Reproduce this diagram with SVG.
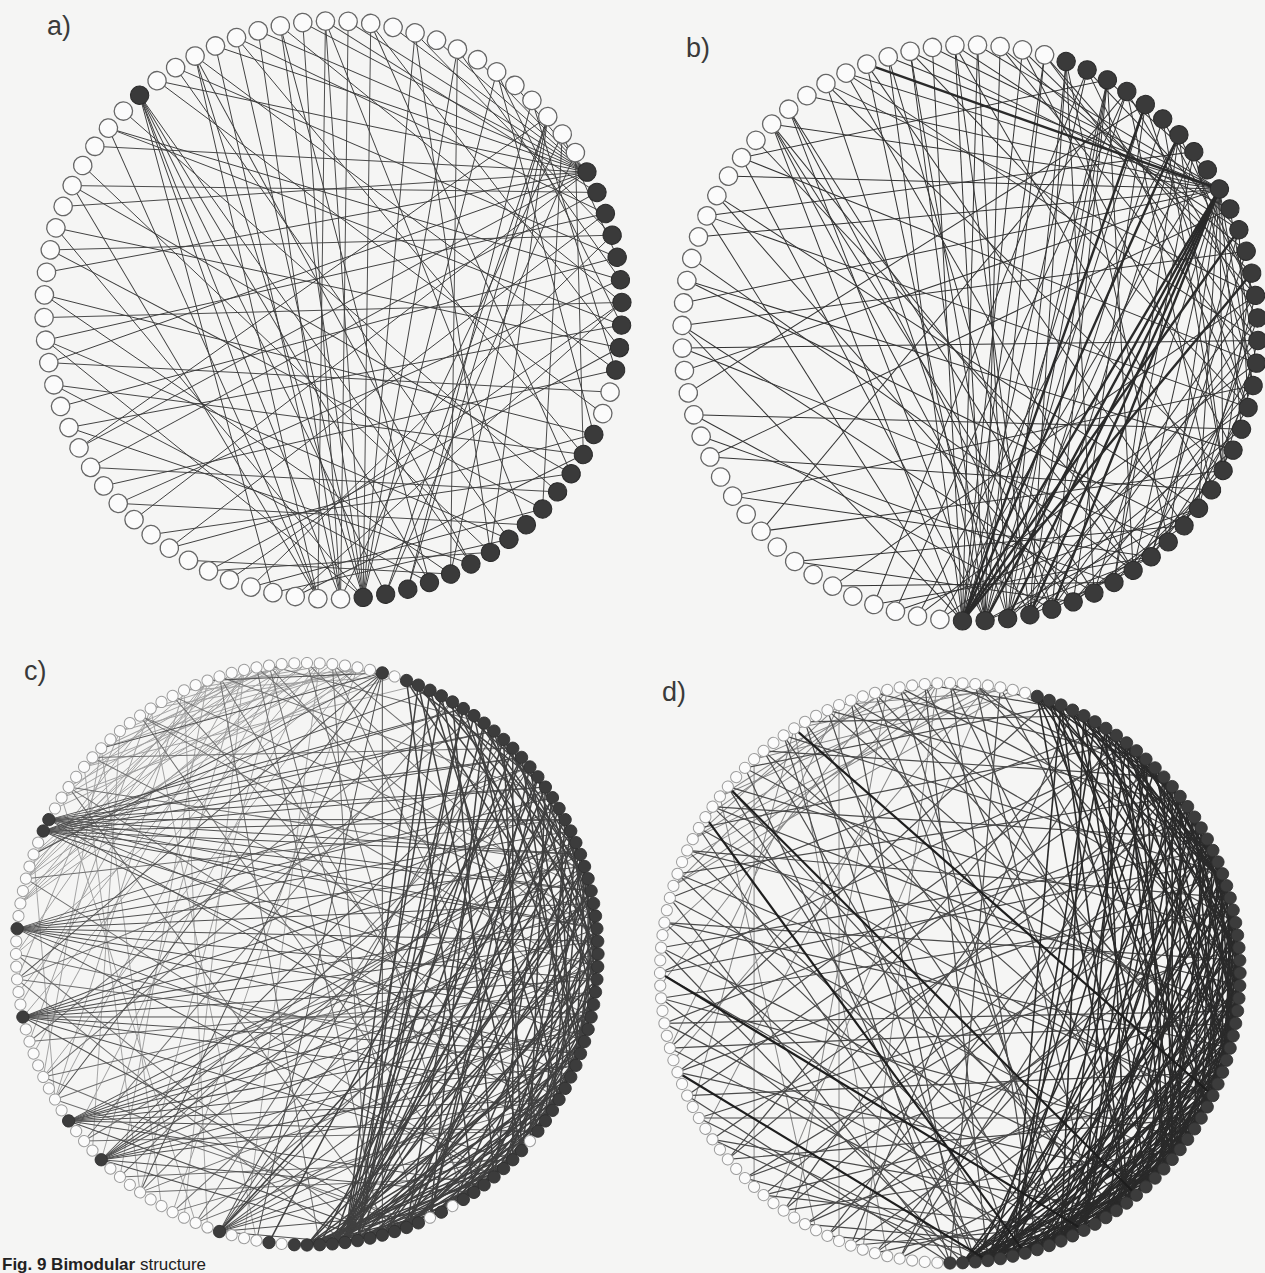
<svg xmlns="http://www.w3.org/2000/svg" width="1265" height="1273" viewBox="0 0 1265 1273">
<style>
.O{fill:#fbfbfb;stroke:#666;stroke-width:1.3}
.F{fill:#3a3a3a;stroke:#2a2a2a;stroke-width:1}
.o{fill:#fbfbfb;stroke:#9c9c9c;stroke-width:1}
.f{fill:#3c3c3c;stroke:#303030;stroke-width:.8}
.ea{stroke:#3c3c3c;stroke-width:.9}
.eb{stroke:#333;stroke-width:1}
.tk{stroke:#2a2a2a;stroke-width:2.4}
.cf{stroke:#404040;stroke-width:1.5}
.ch{stroke:#505050;stroke-width:1}
.co{stroke:#a0a0a0;stroke-width:.9}
.cm{stroke:#6e6e6e;stroke-width:1}
.df{stroke:#2a2a2a;stroke-width:1.6}
.dm{stroke:#4a4a4a;stroke-width:1.2}
.do{stroke:#858585;stroke-width:1}
.dt{stroke:#1e1e1e;stroke-width:2.2}
.lb{font-family:"Liberation Sans",Arial,sans-serif;font-size:27px;fill:#3a3a3a}
.cap{font-family:"Liberation Sans",Arial,sans-serif;font-size:17px;font-weight:bold;fill:#222}
</style>
<defs>
<line id="e" x2="600"/>
<circle id="na" cx="289" r="9.2"/>
<circle id="nb" cx="288" r="9.2"/>
<circle id="nc" cx="291" r="5.6"/>
<circle id="fc" cx="291" r="6.2"/>
<circle id="nd" cx="290" r="5.6"/>
<circle id="fd" cx="290" r="6.2"/>
<clipPath id="ka"><circle r="289"/></clipPath>
<clipPath id="kb"><circle r="288"/></clipPath>
<clipPath id="kc"><circle r="291"/></clipPath>
<clipPath id="kd"><circle r="290"/></clipPath>
</defs>
<rect width="1265" height="1273" fill="#f5f5f4"/>

<g id="panel-a" transform="translate(333 310) rotate(-28.5)">
<g id="a-edges" class="ea" clip-path="url(#ka)">
<g transform="rotate(0)translate(289)"><use href="#e" transform="rotate(171)"/><use href="#e" transform="rotate(180)"/><use href="#e" transform="rotate(189)"/><use href="#e" transform="rotate(198)"/><use href="#e" transform="rotate(204.75)"/><use href="#e" transform="rotate(211.5)"/><use href="#e" transform="rotate(220.5)"/><use href="#e" transform="rotate(227.25)"/><use href="#e" transform="rotate(231.75)"/><use href="#e" transform="rotate(236.25)"/><use href="#e" transform="rotate(240.75)"/><use href="#e" transform="rotate(245.25)"/><use href="#e" transform="rotate(249.75)"/><use href="#e" transform="rotate(254.25)"/><use href="#e" transform="rotate(258.75)"/></g>
<g transform="rotate(112.5)translate(289)"><use href="#e" transform="rotate(168.75)"/><use href="#e" transform="rotate(173.25)"/><use href="#e" transform="rotate(177.75)"/><use href="#e" transform="rotate(182.25)"/><use href="#e" transform="rotate(186.75)"/><use href="#e" transform="rotate(191.25)"/><use href="#e" transform="rotate(195.75)"/><use href="#e" transform="rotate(200.25)"/><use href="#e" transform="rotate(135)"/><use href="#e" transform="rotate(146.25)"/></g>
<g transform="rotate(256.5)translate(289)"><use href="#e" transform="rotate(186.75)"/><use href="#e" transform="rotate(191.25)"/><use href="#e" transform="rotate(195.75)"/><use href="#e" transform="rotate(200.25)"/><use href="#e" transform="rotate(202.5)"/><use href="#e" transform="rotate(207)"/></g>
<g transform="rotate(346.5)translate(289)"><use href="#e" transform="rotate(144)"/><use href="#e" transform="rotate(148.5)"/><use href="#e" transform="rotate(150.75)"/><use href="#e" transform="rotate(139.5)"/><use href="#e" transform="rotate(186.75)"/></g>
<g transform="rotate(117)translate(289)"><use href="#e" transform="rotate(168.75)"/><use href="#e" transform="rotate(173.25)"/><use href="#e" transform="rotate(177.75)"/><use href="#e" transform="rotate(182.25)"/><use href="#e" transform="rotate(207)"/></g>
<g transform="rotate(121.5)translate(289)"><use href="#e" transform="rotate(153)"/><use href="#e" transform="rotate(146.25)"/><use href="#e" transform="rotate(164.25)"/><use href="#e" transform="rotate(177.75)"/></g>
<g transform="rotate(126)translate(289)"><use href="#e" transform="rotate(220.5)"/><use href="#e" transform="rotate(236.25)"/></g>
<g transform="rotate(135)translate(289)"><use href="#e" transform="rotate(209.25)"/><use href="#e" transform="rotate(238.5)"/></g>
<g transform="rotate(144)translate(289)"><use href="#e" transform="rotate(216)"/><use href="#e" transform="rotate(240.75)"/></g>
<g transform="rotate(153)translate(289)"><use href="#e" transform="rotate(198)"/><use href="#e" transform="rotate(220.5)"/></g>
<use href="#e" transform="rotate(157.5)translate(289)rotate(222.75)"/>
<g transform="rotate(166.5)translate(289)"><use href="#e" transform="rotate(198)"/><use href="#e" transform="rotate(225)"/></g>
<use href="#e" transform="rotate(171)translate(289)rotate(204.75)"/>
<g transform="rotate(175.5)translate(289)"><use href="#e" transform="rotate(184.5)"/><use href="#e" transform="rotate(216)"/></g>
<g transform="rotate(184.5)translate(289)"><use href="#e" transform="rotate(193.5)"/><use href="#e" transform="rotate(222.75)"/></g>
<use href="#e" transform="rotate(189)translate(289)rotate(184.5)"/>
<g transform="rotate(193.5)translate(289)"><use href="#e" transform="rotate(202.5)"/><use href="#e" transform="rotate(222.75)"/></g>
<g transform="rotate(202.5)translate(289)"><use href="#e" transform="rotate(173.25)"/><use href="#e" transform="rotate(209.25)"/></g>
<use href="#e" transform="rotate(207)translate(289)rotate(180)"/>
<g transform="rotate(211.5)translate(289)"><use href="#e" transform="rotate(191.25)"/><use href="#e" transform="rotate(211.5)"/></g>
<g transform="rotate(220.5)translate(289)"><use href="#e" transform="rotate(166.5)"/><use href="#e" transform="rotate(195.75)"/></g>
<use href="#e" transform="rotate(225)translate(289)rotate(175.5)"/>
<g transform="rotate(234)translate(289)"><use href="#e" transform="rotate(155.25)"/><use href="#e" transform="rotate(184.5)"/></g>
<use href="#e" transform="rotate(238.5)translate(289)rotate(193.5)"/>
<g transform="rotate(247.5)translate(289)"><use href="#e" transform="rotate(157.5)"/><use href="#e" transform="rotate(162)"/></g>
<use href="#e" transform="rotate(252)translate(289)rotate(177.75)"/>
<g transform="rotate(265.5)translate(289)"><use href="#e" transform="rotate(146.25)"/><use href="#e" transform="rotate(177.75)"/></g>
<g transform="rotate(270)translate(289)"><use href="#e" transform="rotate(155.25)"/><use href="#e" transform="rotate(180)"/></g>
<g transform="rotate(279)translate(289)"><use href="#e" transform="rotate(135)"/><use href="#e" transform="rotate(159.75)"/></g>
<g transform="rotate(288)translate(289)"><use href="#e" transform="rotate(139.5)"/><use href="#e" transform="rotate(175.5)"/></g>
<g transform="rotate(297)translate(289)"><use href="#e" transform="rotate(123.75)"/><use href="#e" transform="rotate(159.75)"/></g>
<g transform="rotate(306)translate(289)"><use href="#e" transform="rotate(135)"/><use href="#e" transform="rotate(148.5)"/></g>
<g transform="rotate(315)translate(289)"><use href="#e" transform="rotate(119.25)"/><use href="#e" transform="rotate(155.25)"/></g>
<g transform="rotate(324)translate(289)"><use href="#e" transform="rotate(119.25)"/><use href="#e" transform="rotate(155.25)"/></g>
<g transform="rotate(333)translate(289)"><use href="#e" transform="rotate(119.25)"/><use href="#e" transform="rotate(130.5)"/></g>
<g transform="rotate(342)translate(289)"><use href="#e" transform="rotate(119.25)"/><use href="#e" transform="rotate(150.75)"/></g>
<g transform="rotate(351)translate(289)"><use href="#e" transform="rotate(103.5)"/><use href="#e" transform="rotate(130.5)"/></g>
<g transform="rotate(355.5)translate(289)"><use href="#e" transform="rotate(121.5)"/><use href="#e" transform="rotate(146.25)"/></g>
<use href="#e" transform="rotate(130.5)translate(289)rotate(245.25)"/>
<use href="#e" transform="rotate(139.5)translate(289)rotate(213.75)"/>
<use href="#e" transform="rotate(148.5)translate(289)rotate(243)"/>
<use href="#e" transform="rotate(45)translate(289)rotate(166.5)"/>
<use href="#e" transform="rotate(49.5)translate(289)rotate(195.75)"/>
</g>
<g id="a-nodes">
<g class="O"><use id="a10" href="#na" transform="rotate(45)"/><use id="a11" href="#na" transform="rotate(49.5)"/><use id="a26" href="#na" transform="rotate(117)"/><use id="a27" href="#na" transform="rotate(121.5)"/><use id="a28" href="#na" transform="rotate(126)"/><use id="a29" href="#na" transform="rotate(130.5)"/><use id="a30" href="#na" transform="rotate(135)"/><use id="a31" href="#na" transform="rotate(139.5)"/><use id="a32" href="#na" transform="rotate(144)"/><use id="a33" href="#na" transform="rotate(148.5)"/><use id="a34" href="#na" transform="rotate(153)"/><use id="a35" href="#na" transform="rotate(157.5)"/><use id="a36" href="#na" transform="rotate(162)"/><use id="a37" href="#na" transform="rotate(166.5)"/><use id="a38" href="#na" transform="rotate(171)"/><use id="a39" href="#na" transform="rotate(175.5)"/><use id="a40" href="#na" transform="rotate(180)"/><use id="a41" href="#na" transform="rotate(184.5)"/><use id="a42" href="#na" transform="rotate(189)"/><use id="a43" href="#na" transform="rotate(193.5)"/><use id="a44" href="#na" transform="rotate(198)"/><use id="a45" href="#na" transform="rotate(202.5)"/><use id="a46" href="#na" transform="rotate(207)"/><use id="a47" href="#na" transform="rotate(211.5)"/><use id="a48" href="#na" transform="rotate(216)"/><use id="a49" href="#na" transform="rotate(220.5)"/><use id="a50" href="#na" transform="rotate(225)"/><use id="a51" href="#na" transform="rotate(229.5)"/><use id="a52" href="#na" transform="rotate(234)"/><use id="a53" href="#na" transform="rotate(238.5)"/><use id="a54" href="#na" transform="rotate(243)"/><use id="a55" href="#na" transform="rotate(247.5)"/><use id="a56" href="#na" transform="rotate(252)"/><use id="a58" href="#na" transform="rotate(261)"/><use id="a59" href="#na" transform="rotate(265.5)"/><use id="a60" href="#na" transform="rotate(270)"/><use id="a61" href="#na" transform="rotate(274.5)"/><use id="a62" href="#na" transform="rotate(279)"/><use id="a63" href="#na" transform="rotate(283.5)"/><use id="a64" href="#na" transform="rotate(288)"/><use id="a65" href="#na" transform="rotate(292.5)"/><use id="a66" href="#na" transform="rotate(297)"/><use id="a67" href="#na" transform="rotate(301.5)"/><use id="a68" href="#na" transform="rotate(306)"/><use id="a69" href="#na" transform="rotate(310.5)"/><use id="a70" href="#na" transform="rotate(315)"/><use id="a71" href="#na" transform="rotate(319.5)"/><use id="a72" href="#na" transform="rotate(324)"/><use id="a73" href="#na" transform="rotate(328.5)"/><use id="a74" href="#na" transform="rotate(333)"/><use id="a75" href="#na" transform="rotate(337.5)"/><use id="a76" href="#na" transform="rotate(342)"/><use id="a77" href="#na" transform="rotate(346.5)"/><use id="a78" href="#na" transform="rotate(351)"/><use id="a79" href="#na" transform="rotate(355.5)"/></g>
<g class="F"><use id="a0" href="#na"/><use id="a1" href="#na" transform="rotate(4.5)"/><use id="a2" href="#na" transform="rotate(9)"/><use id="a3" href="#na" transform="rotate(13.5)"/><use id="a4" href="#na" transform="rotate(18)"/><use id="a5" href="#na" transform="rotate(22.5)"/><use id="a6" href="#na" transform="rotate(27)"/><use id="a7" href="#na" transform="rotate(31.5)"/><use id="a8" href="#na" transform="rotate(36)"/><use id="a9" href="#na" transform="rotate(40.5)"/><use id="a12" href="#na" transform="rotate(54)"/><use id="a13" href="#na" transform="rotate(58.5)"/><use id="a14" href="#na" transform="rotate(63)"/><use id="a15" href="#na" transform="rotate(67.5)"/><use id="a16" href="#na" transform="rotate(72)"/><use id="a17" href="#na" transform="rotate(76.5)"/><use id="a18" href="#na" transform="rotate(81)"/><use id="a19" href="#na" transform="rotate(85.5)"/><use id="a20" href="#na" transform="rotate(90)"/><use id="a21" href="#na" transform="rotate(94.5)"/><use id="a22" href="#na" transform="rotate(99)"/><use id="a23" href="#na" transform="rotate(103.5)"/><use id="a24" href="#na" transform="rotate(108)"/><use id="a25" href="#na" transform="rotate(112.5)"/><use id="a57" href="#na" transform="rotate(256.5)"/></g>
</g>
</g>

<g id="panel-b" transform="translate(970 333) rotate(1.5)">
<g id="b-edges" clip-path="url(#kb)">
<g class="eb">
<g transform="rotate(328.5)translate(288)"><use href="#e" transform="rotate(240.75)"/><use href="#e" transform="rotate(236.25)"/><use href="#e" transform="rotate(231.75)"/><use href="#e" transform="rotate(227.25)"/><use href="#e" transform="rotate(222.75)"/><use href="#e" transform="rotate(218.25)"/><use href="#e" transform="rotate(211.5)"/><use href="#e" transform="rotate(204.75)"/><use href="#e" transform="rotate(198)"/><use href="#e" transform="rotate(191.25)"/><use href="#e" transform="rotate(110.25)"/><use href="#e" transform="rotate(114.75)"/><use href="#e" transform="rotate(119.25)"/><use href="#e" transform="rotate(123.75)"/><use href="#e" transform="rotate(128.25)"/><use href="#e" transform="rotate(132.75)"/><use href="#e" transform="rotate(137.25)"/></g>
<g transform="rotate(90)translate(288)"><use href="#e" transform="rotate(171)"/><use href="#e" transform="rotate(175.5)"/><use href="#e" transform="rotate(180)"/><use href="#e" transform="rotate(184.5)"/><use href="#e" transform="rotate(186.75)"/><use href="#e" transform="rotate(157.5)"/><use href="#e" transform="rotate(146.25)"/><use href="#e" transform="rotate(135)"/><use href="#e" transform="rotate(191.25)"/><use href="#e" transform="rotate(195.75)"/></g>
<g transform="rotate(85.5)translate(288)"><use href="#e" transform="rotate(171)"/><use href="#e" transform="rotate(175.5)"/><use href="#e" transform="rotate(180)"/><use href="#e" transform="rotate(184.5)"/><use href="#e" transform="rotate(155.25)"/><use href="#e" transform="rotate(195.75)"/><use href="#e" transform="rotate(207)"/><use href="#e" transform="rotate(189)"/><use href="#e" transform="rotate(200.25)"/><use href="#e" transform="rotate(211.5)"/></g>
<g transform="rotate(81)translate(288)"><use href="#e" transform="rotate(168.75)"/><use href="#e" transform="rotate(184.5)"/><use href="#e" transform="rotate(193.5)"/><use href="#e" transform="rotate(204.75)"/><use href="#e" transform="rotate(229.5)"/><use href="#e" transform="rotate(177.75)"/><use href="#e" transform="rotate(198)"/><use href="#e" transform="rotate(213.75)"/></g>
<g transform="rotate(76.5)translate(288)"><use href="#e" transform="rotate(184.5)"/><use href="#e" transform="rotate(195.75)"/><use href="#e" transform="rotate(209.25)"/></g>
<g transform="rotate(72)translate(288)"><use href="#e" transform="rotate(180)"/><use href="#e" transform="rotate(202.5)"/><use href="#e" transform="rotate(218.25)"/></g>
<g transform="rotate(225)translate(288)"><use href="#e" transform="rotate(195.75)"/><use href="#e" transform="rotate(191.25)"/><use href="#e" transform="rotate(184.5)"/></g>
<g transform="rotate(229.5)translate(288)"><use href="#e" transform="rotate(191.25)"/><use href="#e" transform="rotate(186.75)"/><use href="#e" transform="rotate(198)"/></g>
<g transform="rotate(94.5)translate(288)"><use href="#e" transform="rotate(204.75)"/><use href="#e" transform="rotate(229.5)"/></g>
<g transform="rotate(99)translate(288)"><use href="#e" transform="rotate(198)"/><use href="#e" transform="rotate(222.75)"/></g>
<g transform="rotate(103.5)translate(288)"><use href="#e" transform="rotate(189)"/><use href="#e" transform="rotate(236.25)"/></g>
<g transform="rotate(108)translate(288)"><use href="#e" transform="rotate(182.25)"/><use href="#e" transform="rotate(240.75)"/></g>
<g transform="rotate(117)translate(288)"><use href="#e" transform="rotate(240.75)"/><use href="#e" transform="rotate(207)"/></g>
<g transform="rotate(126)translate(288)"><use href="#e" transform="rotate(227.25)"/><use href="#e" transform="rotate(240.75)"/></g>
<g transform="rotate(135)translate(288)"><use href="#e" transform="rotate(216)"/><use href="#e" transform="rotate(173.25)"/></g>
<g transform="rotate(144)translate(288)"><use href="#e" transform="rotate(202.5)"/><use href="#e" transform="rotate(222.75)"/></g>
<g transform="rotate(153)translate(288)"><use href="#e" transform="rotate(209.25)"/><use href="#e" transform="rotate(180)"/></g>
<use href="#e" transform="rotate(157.5)translate(288)rotate(220.5)"/>
<g transform="rotate(162)translate(288)"><use href="#e" transform="rotate(198)"/><use href="#e" transform="rotate(225)"/></g>
<use href="#e" transform="rotate(166.5)translate(288)rotate(159.75)"/>
<g transform="rotate(175.5)translate(288)"><use href="#e" transform="rotate(182.25)"/><use href="#e" transform="rotate(204.75)"/></g>
<g transform="rotate(180)translate(288)"><use href="#e" transform="rotate(211.5)"/><use href="#e" transform="rotate(171)"/></g>
<g transform="rotate(189)translate(288)"><use href="#e" transform="rotate(186.75)"/><use href="#e" transform="rotate(195.75)"/></g>
<use href="#e" transform="rotate(193.5)translate(288)rotate(200.25)"/>
<g transform="rotate(202.5)translate(288)"><use href="#e" transform="rotate(175.5)"/><use href="#e" transform="rotate(148.5)"/></g>
<g transform="rotate(207)translate(288)"><use href="#e" transform="rotate(184.5)"/><use href="#e" transform="rotate(200.25)"/></g>
<g transform="rotate(216)translate(288)"><use href="#e" transform="rotate(164.25)"/><use href="#e" transform="rotate(130.5)"/></g>
<use href="#e" transform="rotate(220.5)translate(288)rotate(184.5)"/>
<g transform="rotate(238.5)translate(288)"><use href="#e" transform="rotate(164.25)"/><use href="#e" transform="rotate(146.25)"/></g>
<g transform="rotate(243)translate(288)"><use href="#e" transform="rotate(148.5)"/><use href="#e" transform="rotate(175.5)"/></g>
<use href="#e" transform="rotate(247.5)translate(288)rotate(166.5)"/>
<g transform="rotate(256.5)translate(288)"><use href="#e" transform="rotate(128.25)"/><use href="#e" transform="rotate(148.5)"/></g>
<g transform="rotate(265.5)translate(288)"><use href="#e" transform="rotate(126)"/><use href="#e" transform="rotate(153)"/></g>
<g transform="rotate(274.5)translate(288)"><use href="#e" transform="rotate(123.75)"/><use href="#e" transform="rotate(135)"/></g>
<g transform="rotate(279)translate(288)"><use href="#e" transform="rotate(123.75)"/><use href="#e" transform="rotate(141.75)"/></g>
<g transform="rotate(283.5)translate(288)"><use href="#e" transform="rotate(123.75)"/><use href="#e" transform="rotate(128.25)"/></g>
<g transform="rotate(288)translate(288)"><use href="#e" transform="rotate(148.5)"/><use href="#e" transform="rotate(157.5)"/></g>
<g transform="rotate(292.5)translate(288)"><use href="#e" transform="rotate(112.5)"/><use href="#e" transform="rotate(130.5)"/></g>
<g transform="rotate(297)translate(288)"><use href="#e" transform="rotate(148.5)"/><use href="#e" transform="rotate(159.75)"/><use href="#e" transform="rotate(103.5)"/></g>
<g transform="rotate(301.5)translate(288)"><use href="#e" transform="rotate(117)"/><use href="#e" transform="rotate(135)"/></g>
<g transform="rotate(306)translate(288)"><use href="#e" transform="rotate(123.75)"/><use href="#e" transform="rotate(150.75)"/></g>
<g transform="rotate(310.5)translate(288)"><use href="#e" transform="rotate(110.25)"/><use href="#e" transform="rotate(128.25)"/></g>
<g transform="rotate(315)translate(288)"><use href="#e" transform="rotate(126)"/><use href="#e" transform="rotate(141.75)"/><use href="#e" transform="rotate(108)"/></g>
<g transform="rotate(319.5)translate(288)"><use href="#e" transform="rotate(114.75)"/><use href="#e" transform="rotate(139.5)"/></g>
<g transform="rotate(337.5)translate(288)"><use href="#e" transform="rotate(108)"/><use href="#e" transform="rotate(126)"/></g>
<use href="#e" transform="rotate(342)translate(288)rotate(123.75)"/>
<g transform="rotate(351)translate(288)"><use href="#e" transform="rotate(112.5)"/><use href="#e" transform="rotate(132.75)"/></g>
<g transform="rotate(355.5)translate(288)"><use href="#e" transform="rotate(112.5)"/><use href="#e" transform="rotate(128.25)"/></g>
<use href="#e" transform="rotate(4.5)translate(288)rotate(114.75)"/>
<g transform="rotate(9)translate(288)"><use href="#e" transform="rotate(105.75)"/><use href="#e" transform="rotate(119.25)"/></g>
<use href="#e" transform="rotate(18)translate(288)rotate(121.5)"/>
<g transform="rotate(22.5)translate(288)"><use href="#e" transform="rotate(103.5)"/><use href="#e" transform="rotate(117)"/></g>
<g transform="rotate(36)translate(288)"><use href="#e" transform="rotate(105.75)"/><use href="#e" transform="rotate(114.75)"/></g>
<g transform="rotate(49.5)translate(288)"><use href="#e" transform="rotate(101.25)"/><use href="#e" transform="rotate(108)"/></g>
<use href="#e" transform="rotate(333)translate(288)rotate(105.75)"/>
<use href="#e" transform="rotate(346.5)translate(288)rotate(110.25)"/>
<use href="#e" transform="rotate(0)translate(288)rotate(103.5)"/>
<use href="#e" transform="rotate(13.5)translate(288)rotate(108)"/>
<use href="#e" transform="rotate(27)translate(288)rotate(105.75)"/>
<use href="#e" transform="rotate(40.5)translate(288)rotate(103.5)"/>
<use href="#e" transform="rotate(54)translate(288)rotate(101.25)"/>
</g>
<g class="tk">
<g transform="rotate(328.5)translate(288)"><use href="#e" transform="rotate(150.75)"/><use href="#e" transform="rotate(148.5)"/><use href="#e" transform="rotate(146.25)"/><use href="#e" transform="rotate(144)"/><use href="#e" transform="rotate(141.75)"/></g>
<g transform="rotate(90)translate(288)"><use href="#e" transform="rotate(198)"/><use href="#e" transform="rotate(202.5)"/><use href="#e" transform="rotate(213.75)"/><use href="#e" transform="rotate(218.25)"/></g>
<use href="#e" transform="rotate(247.5)translate(288)rotate(130.5)"/>
</g>
</g>
<g id="b-nodes">
<g class="O"><use id="b21" href="#nb" transform="rotate(94.5)"/><use id="b22" href="#nb" transform="rotate(99)"/><use id="b23" href="#nb" transform="rotate(103.5)"/><use id="b24" href="#nb" transform="rotate(108)"/><use id="b25" href="#nb" transform="rotate(112.5)"/><use id="b26" href="#nb" transform="rotate(117)"/><use id="b27" href="#nb" transform="rotate(121.5)"/><use id="b28" href="#nb" transform="rotate(126)"/><use id="b29" href="#nb" transform="rotate(130.5)"/><use id="b30" href="#nb" transform="rotate(135)"/><use id="b31" href="#nb" transform="rotate(139.5)"/><use id="b32" href="#nb" transform="rotate(144)"/><use id="b33" href="#nb" transform="rotate(148.5)"/><use id="b34" href="#nb" transform="rotate(153)"/><use id="b35" href="#nb" transform="rotate(157.5)"/><use id="b36" href="#nb" transform="rotate(162)"/><use id="b37" href="#nb" transform="rotate(166.5)"/><use id="b38" href="#nb" transform="rotate(171)"/><use id="b39" href="#nb" transform="rotate(175.5)"/><use id="b40" href="#nb" transform="rotate(180)"/><use id="b41" href="#nb" transform="rotate(184.5)"/><use id="b42" href="#nb" transform="rotate(189)"/><use id="b43" href="#nb" transform="rotate(193.5)"/><use id="b44" href="#nb" transform="rotate(198)"/><use id="b45" href="#nb" transform="rotate(202.5)"/><use id="b46" href="#nb" transform="rotate(207)"/><use id="b47" href="#nb" transform="rotate(211.5)"/><use id="b48" href="#nb" transform="rotate(216)"/><use id="b49" href="#nb" transform="rotate(220.5)"/><use id="b50" href="#nb" transform="rotate(225)"/><use id="b51" href="#nb" transform="rotate(229.5)"/><use id="b52" href="#nb" transform="rotate(234)"/><use id="b53" href="#nb" transform="rotate(238.5)"/><use id="b54" href="#nb" transform="rotate(243)"/><use id="b55" href="#nb" transform="rotate(247.5)"/><use id="b56" href="#nb" transform="rotate(252)"/><use id="b57" href="#nb" transform="rotate(256.5)"/><use id="b58" href="#nb" transform="rotate(261)"/><use id="b59" href="#nb" transform="rotate(265.5)"/><use id="b60" href="#nb" transform="rotate(270)"/><use id="b61" href="#nb" transform="rotate(274.5)"/><use id="b62" href="#nb" transform="rotate(279)"/><use id="b63" href="#nb" transform="rotate(283.5)"/></g>
<g class="F"><use id="b64" href="#nb" transform="rotate(288)"/><use id="b65" href="#nb" transform="rotate(292.5)"/><use id="b66" href="#nb" transform="rotate(297)"/><use id="b67" href="#nb" transform="rotate(301.5)"/><use id="b68" href="#nb" transform="rotate(306)"/><use id="b69" href="#nb" transform="rotate(310.5)"/><use id="b70" href="#nb" transform="rotate(315)"/><use id="b71" href="#nb" transform="rotate(319.5)"/><use id="b72" href="#nb" transform="rotate(324)"/><use id="b73" href="#nb" transform="rotate(328.5)"/><use id="b74" href="#nb" transform="rotate(333)"/><use id="b75" href="#nb" transform="rotate(337.5)"/><use id="b76" href="#nb" transform="rotate(342)"/><use id="b77" href="#nb" transform="rotate(346.5)"/><use id="b78" href="#nb" transform="rotate(351)"/><use id="b79" href="#nb" transform="rotate(355.5)"/><use id="b0" href="#nb"/><use id="b1" href="#nb" transform="rotate(4.5)"/><use id="b2" href="#nb" transform="rotate(9)"/><use id="b3" href="#nb" transform="rotate(13.5)"/><use id="b4" href="#nb" transform="rotate(18)"/><use id="b5" href="#nb" transform="rotate(22.5)"/><use id="b6" href="#nb" transform="rotate(27)"/><use id="b7" href="#nb" transform="rotate(31.5)"/><use id="b8" href="#nb" transform="rotate(36)"/><use id="b9" href="#nb" transform="rotate(40.5)"/><use id="b10" href="#nb" transform="rotate(45)"/><use id="b11" href="#nb" transform="rotate(49.5)"/><use id="b12" href="#nb" transform="rotate(54)"/><use id="b13" href="#nb" transform="rotate(58.5)"/><use id="b14" href="#nb" transform="rotate(63)"/><use id="b15" href="#nb" transform="rotate(67.5)"/><use id="b16" href="#nb" transform="rotate(72)"/><use id="b17" href="#nb" transform="rotate(76.5)"/><use id="b18" href="#nb" transform="rotate(81)"/><use id="b19" href="#nb" transform="rotate(85.5)"/><use id="b20" href="#nb" transform="rotate(90)"/></g>
</g>
</g>

<g id="panel-c" transform="translate(307 954)">
<g id="c-edges" clip-path="url(#kc)">
<g class="co">
<g transform="rotate(190)translate(291)"><use href="#e" transform="rotate(120)"/><use href="#e" transform="rotate(130)"/><use href="#e" transform="rotate(135)"/><use href="#e" transform="rotate(125)"/></g>
<g transform="rotate(195)translate(291)"><use href="#e" transform="rotate(112.5)"/><use href="#e" transform="rotate(122.5)"/><use href="#e" transform="rotate(130)"/><use href="#e" transform="rotate(118.75)"/></g>
<g transform="rotate(200)translate(291)"><use href="#e" transform="rotate(245)"/><use href="#e" transform="rotate(117.5)"/><use href="#e" transform="rotate(131.25)"/><use href="#e" transform="rotate(125)"/></g>
<g transform="rotate(212.5)translate(291)"><use href="#e" transform="rotate(220)"/><use href="#e" transform="rotate(107.5)"/><use href="#e" transform="rotate(117.5)"/><use href="#e" transform="rotate(127.5)"/></g>
<g transform="rotate(220)translate(291)"><use href="#e" transform="rotate(222.5)"/><use href="#e" transform="rotate(110)"/><use href="#e" transform="rotate(118.75)"/><use href="#e" transform="rotate(126.25)"/></g>
<g transform="rotate(225)translate(291)"><use href="#e" transform="rotate(217.5)"/><use href="#e" transform="rotate(235)"/><use href="#e" transform="rotate(117.5)"/><use href="#e" transform="rotate(110)"/></g>
<g transform="rotate(230)translate(291)"><use href="#e" transform="rotate(223.75)"/><use href="#e" transform="rotate(242.5)"/><use href="#e" transform="rotate(107.5)"/><use href="#e" transform="rotate(115)"/></g>
<g transform="rotate(237.5)translate(291)"><use href="#e" transform="rotate(201.25)"/><use href="#e" transform="rotate(232.5)"/><use href="#e" transform="rotate(112.5)"/><use href="#e" transform="rotate(105)"/></g>
<g transform="rotate(245)translate(291)"><use href="#e" transform="rotate(202.5)"/><use href="#e" transform="rotate(222.5)"/><use href="#e" transform="rotate(105)"/><use href="#e" transform="rotate(111.25)"/></g>
<g transform="rotate(250)translate(291)"><use href="#e" transform="rotate(210)"/><use href="#e" transform="rotate(235)"/><use href="#e" transform="rotate(106.25)"/><use href="#e" transform="rotate(230)"/></g>
<g transform="rotate(257.5)translate(291)"><use href="#e" transform="rotate(198.75)"/><use href="#e" transform="rotate(221.25)"/><use href="#e" transform="rotate(240)"/><use href="#e" transform="rotate(208.75)"/></g>
<g transform="rotate(265)translate(291)"><use href="#e" transform="rotate(200)"/><use href="#e" transform="rotate(223.75)"/><use href="#e" transform="rotate(245)"/><use href="#e" transform="rotate(212.5)"/></g>
<g transform="rotate(272.5)translate(291)"><use href="#e" transform="rotate(185)"/><use href="#e" transform="rotate(205)"/><use href="#e" transform="rotate(230)"/><use href="#e" transform="rotate(217.5)"/></g>
<g transform="rotate(280)translate(291)"><use href="#e" transform="rotate(188.75)"/><use href="#e" transform="rotate(207.5)"/><use href="#e" transform="rotate(235)"/><use href="#e" transform="rotate(220)"/></g>
</g>
<g class="cm">
<g transform="rotate(112.5)translate(291)"><use href="#e" transform="rotate(226.25)"/><use href="#e" transform="rotate(190)"/><use href="#e" transform="rotate(208.75)"/></g>
<g transform="rotate(125)translate(291)"><use href="#e" transform="rotate(232.5)"/><use href="#e" transform="rotate(190)"/><use href="#e" transform="rotate(213.75)"/></g>
<g transform="rotate(140)translate(291)"><use href="#e" transform="rotate(218.75)"/><use href="#e" transform="rotate(188.75)"/><use href="#e" transform="rotate(170)"/></g>
<g transform="rotate(155)translate(291)"><use href="#e" transform="rotate(227.5)"/><use href="#e" transform="rotate(192.5)"/><use href="#e" transform="rotate(165)"/></g>
<g transform="rotate(175)translate(291)"><use href="#e" transform="rotate(223.75)"/><use href="#e" transform="rotate(192.5)"/><use href="#e" transform="rotate(162.5)"/></g>
<g transform="rotate(215)translate(291)"><use href="#e" transform="rotate(177.5)"/><use href="#e" transform="rotate(153.75)"/><use href="#e" transform="rotate(198.75)"/></g>
<g transform="rotate(235)translate(291)"><use href="#e" transform="rotate(155)"/><use href="#e" transform="rotate(148.75)"/><use href="#e" transform="rotate(180)"/></g>
<g transform="rotate(252.5)translate(291)"><use href="#e" transform="rotate(166.25)"/><use href="#e" transform="rotate(127.5)"/><use href="#e" transform="rotate(187.5)"/></g>
<g transform="rotate(262.5)translate(291)"><use href="#e" transform="rotate(146.25)"/><use href="#e" transform="rotate(112.5)"/><use href="#e" transform="rotate(172.5)"/></g>
<g transform="rotate(275)translate(291)"><use href="#e" transform="rotate(150)"/><use href="#e" transform="rotate(125)"/><use href="#e" transform="rotate(171.25)"/></g>
<g transform="rotate(117.5)translate(291)"><use href="#e" transform="rotate(226.25)"/><use href="#e" transform="rotate(200)"/></g>
<g transform="rotate(130)translate(291)"><use href="#e" transform="rotate(227.5)"/><use href="#e" transform="rotate(185)"/></g>
<g transform="rotate(150)translate(291)"><use href="#e" transform="rotate(228.75)"/><use href="#e" transform="rotate(190)"/></g>
<g transform="rotate(162.5)translate(291)"><use href="#e" transform="rotate(192.5)"/><use href="#e" transform="rotate(158.75)"/></g>
<g transform="rotate(180)translate(291)"><use href="#e" transform="rotate(218.75)"/><use href="#e" transform="rotate(192.5)"/></g>
<g transform="rotate(195)translate(291)"><use href="#e" transform="rotate(197.5)"/><use href="#e" transform="rotate(158.75)"/></g>
<g transform="rotate(222.5)translate(291)"><use href="#e" transform="rotate(165)"/><use href="#e" transform="rotate(136.25)"/></g>
<g transform="rotate(242.5)translate(291)"><use href="#e" transform="rotate(166.25)"/><use href="#e" transform="rotate(142.5)"/></g>
<g transform="rotate(260)translate(291)"><use href="#e" transform="rotate(177.5)"/><use href="#e" transform="rotate(140)"/></g>
<g transform="rotate(270)translate(291)"><use href="#e" transform="rotate(163.75)"/><use href="#e" transform="rotate(133.75)"/></g>
</g>
<g class="ch">
<g transform="rotate(205)translate(291)"><use href="#e" transform="rotate(135)"/><use href="#e" transform="rotate(142.5)"/><use href="#e" transform="rotate(150)"/><use href="#e" transform="rotate(157.5)"/><use href="#e" transform="rotate(165)"/><use href="#e" transform="rotate(172.5)"/><use href="#e" transform="rotate(180)"/><use href="#e" transform="rotate(138.75)"/><use href="#e" transform="rotate(146.25)"/><use href="#e" transform="rotate(153.75)"/><use href="#e" transform="rotate(161.25)"/></g>
<g transform="rotate(207.5)translate(291)"><use href="#e" transform="rotate(137.5)"/><use href="#e" transform="rotate(145)"/><use href="#e" transform="rotate(152.5)"/><use href="#e" transform="rotate(160)"/><use href="#e" transform="rotate(167.5)"/><use href="#e" transform="rotate(175)"/><use href="#e" transform="rotate(182.5)"/><use href="#e" transform="rotate(141.25)"/><use href="#e" transform="rotate(148.75)"/><use href="#e" transform="rotate(156.25)"/><use href="#e" transform="rotate(163.75)"/></g>
<g transform="rotate(185)translate(291)"><use href="#e" transform="rotate(157.5)"/><use href="#e" transform="rotate(165)"/><use href="#e" transform="rotate(172.5)"/><use href="#e" transform="rotate(180)"/><use href="#e" transform="rotate(187.5)"/><use href="#e" transform="rotate(195)"/><use href="#e" transform="rotate(202.5)"/><use href="#e" transform="rotate(161.25)"/><use href="#e" transform="rotate(168.75)"/><use href="#e" transform="rotate(176.25)"/><use href="#e" transform="rotate(183.75)"/></g>
<g transform="rotate(167.5)translate(291)"><use href="#e" transform="rotate(171.25)"/><use href="#e" transform="rotate(178.75)"/><use href="#e" transform="rotate(185)"/><use href="#e" transform="rotate(192.5)"/><use href="#e" transform="rotate(200)"/><use href="#e" transform="rotate(208.75)"/><use href="#e" transform="rotate(221.25)"/><use href="#e" transform="rotate(175)"/><use href="#e" transform="rotate(182.5)"/><use href="#e" transform="rotate(188.75)"/><use href="#e" transform="rotate(196.25)"/></g>
<g transform="rotate(145)translate(291)"><use href="#e" transform="rotate(187.5)"/><use href="#e" transform="rotate(195)"/><use href="#e" transform="rotate(201.25)"/><use href="#e" transform="rotate(208.75)"/><use href="#e" transform="rotate(216.25)"/><use href="#e" transform="rotate(223.75)"/><use href="#e" transform="rotate(235)"/><use href="#e" transform="rotate(191.25)"/><use href="#e" transform="rotate(198.75)"/><use href="#e" transform="rotate(205)"/><use href="#e" transform="rotate(212.5)"/></g>
<g transform="rotate(135)translate(291)"><use href="#e" transform="rotate(180)"/><use href="#e" transform="rotate(190)"/><use href="#e" transform="rotate(197.5)"/><use href="#e" transform="rotate(210)"/><use href="#e" transform="rotate(217.5)"/><use href="#e" transform="rotate(230)"/><use href="#e" transform="rotate(241.25)"/><use href="#e" transform="rotate(185)"/><use href="#e" transform="rotate(193.75)"/><use href="#e" transform="rotate(203.75)"/><use href="#e" transform="rotate(213.75)"/></g>
<g transform="rotate(107.5)translate(291)"><use href="#e" transform="rotate(191.25)"/><use href="#e" transform="rotate(201.25)"/><use href="#e" transform="rotate(216.25)"/><use href="#e" transform="rotate(226.25)"/><use href="#e" transform="rotate(237.5)"/><use href="#e" transform="rotate(247.5)"/><use href="#e" transform="rotate(257.5)"/><use href="#e" transform="rotate(196.25)"/><use href="#e" transform="rotate(207.5)"/><use href="#e" transform="rotate(221.25)"/><use href="#e" transform="rotate(232.5)"/></g>
<g transform="rotate(285)translate(291)"><use href="#e" transform="rotate(202.5)"/><use href="#e" transform="rotate(215)"/><use href="#e" transform="rotate(227.5)"/><use href="#e" transform="rotate(240)"/><use href="#e" transform="rotate(252.5)"/><use href="#e" transform="rotate(190)"/><use href="#e" transform="rotate(177.5)"/><use href="#e" transform="rotate(165)"/></g>
</g>
<g class="cf">
<g transform="rotate(290)translate(291)"><use href="#e" transform="rotate(107.5)"/><use href="#e" transform="rotate(127.5)"/><use href="#e" transform="rotate(152.5)"/></g>
<g transform="rotate(292.5)translate(291)"><use href="#e" transform="rotate(120)"/><use href="#e" transform="rotate(145)"/><use href="#e" transform="rotate(165)"/></g>
<g transform="rotate(295)translate(291)"><use href="#e" transform="rotate(115)"/><use href="#e" transform="rotate(137.5)"/><use href="#e" transform="rotate(162.5)"/></g>
<g transform="rotate(297.5)translate(291)"><use href="#e" transform="rotate(111.25)"/><use href="#e" transform="rotate(140)"/><use href="#e" transform="rotate(162.5)"/></g>
<g transform="rotate(300)translate(291)"><use href="#e" transform="rotate(102.5)"/><use href="#e" transform="rotate(122.5)"/><use href="#e" transform="rotate(145)"/></g>
<g transform="rotate(302.5)translate(291)"><use href="#e" transform="rotate(127.5)"/><use href="#e" transform="rotate(158.75)"/><use href="#e" transform="rotate(160)"/></g>
<g transform="rotate(305)translate(291)"><use href="#e" transform="rotate(110)"/><use href="#e" transform="rotate(132.5)"/><use href="#e" transform="rotate(157.5)"/></g>
<g transform="rotate(307.5)translate(291)"><use href="#e" transform="rotate(116.25)"/><use href="#e" transform="rotate(148.75)"/><use href="#e" transform="rotate(157.5)"/></g>
<g transform="rotate(310)translate(291)"><use href="#e" transform="rotate(105)"/><use href="#e" transform="rotate(125)"/><use href="#e" transform="rotate(150)"/></g>
<g transform="rotate(312.5)translate(291)"><use href="#e" transform="rotate(107.5)"/><use href="#e" transform="rotate(135)"/><use href="#e" transform="rotate(155)"/></g>
<g transform="rotate(315)translate(291)"><use href="#e" transform="rotate(112.5)"/><use href="#e" transform="rotate(135)"/><use href="#e" transform="rotate(155)"/></g>
<g transform="rotate(317.5)translate(291)"><use href="#e" transform="rotate(123.75)"/><use href="#e" transform="rotate(152.5)"/><use href="#e" transform="rotate(160)"/></g>
<g transform="rotate(320)translate(291)"><use href="#e" transform="rotate(100)"/><use href="#e" transform="rotate(120)"/><use href="#e" transform="rotate(142.5)"/></g>
<g transform="rotate(322.5)translate(291)"><use href="#e" transform="rotate(113.75)"/><use href="#e" transform="rotate(141.25)"/><use href="#e" transform="rotate(150)"/></g>
<g transform="rotate(325)translate(291)"><use href="#e" transform="rotate(108.75)"/><use href="#e" transform="rotate(127.5)"/><use href="#e" transform="rotate(147.5)"/></g>
<g transform="rotate(327.5)translate(291)"><use href="#e" transform="rotate(131.25)"/><use href="#e" transform="rotate(150)"/><use href="#e" transform="rotate(147.5)"/></g>
<g transform="rotate(330)translate(291)"><use href="#e" transform="rotate(102.5)"/><use href="#e" transform="rotate(117.5)"/><use href="#e" transform="rotate(140)"/></g>
<g transform="rotate(332.5)translate(291)"><use href="#e" transform="rotate(103.75)"/><use href="#e" transform="rotate(121.25)"/><use href="#e" transform="rotate(145)"/></g>
<g transform="rotate(335)translate(291)"><use href="#e" transform="rotate(106.25)"/><use href="#e" transform="rotate(123.75)"/><use href="#e" transform="rotate(145)"/></g>
<g transform="rotate(337.5)translate(291)"><use href="#e" transform="rotate(117.5)"/><use href="#e" transform="rotate(143.75)"/><use href="#e" transform="rotate(155)"/></g>
<g transform="rotate(340)translate(291)"><use href="#e" transform="rotate(101.25)"/><use href="#e" transform="rotate(115)"/><use href="#e" transform="rotate(135)"/></g>
<g transform="rotate(342.5)translate(291)"><use href="#e" transform="rotate(110)"/><use href="#e" transform="rotate(133.75)"/><use href="#e" transform="rotate(140)"/></g>
<g transform="rotate(345)translate(291)"><use href="#e" transform="rotate(105)"/><use href="#e" transform="rotate(121.25)"/><use href="#e" transform="rotate(140)"/></g>
<g transform="rotate(347.5)translate(291)"><use href="#e" transform="rotate(126.25)"/><use href="#e" transform="rotate(141.25)"/><use href="#e" transform="rotate(137.5)"/></g>
<g transform="rotate(350)translate(291)"><use href="#e" transform="rotate(100)"/><use href="#e" transform="rotate(112.5)"/><use href="#e" transform="rotate(132.5)"/></g>
<g transform="rotate(352.5)translate(291)"><use href="#e" transform="rotate(105)"/><use href="#e" transform="rotate(122.5)"/></g>
<g transform="rotate(355)translate(291)"><use href="#e" transform="rotate(103.75)"/><use href="#e" transform="rotate(118.75)"/><use href="#e" transform="rotate(135)"/></g>
<g transform="rotate(357.5)translate(291)"><use href="#e" transform="rotate(115)"/><use href="#e" transform="rotate(136.25)"/></g>
<g transform="rotate(0)translate(291)"><use href="#e" transform="rotate(98.75)"/><use href="#e" transform="rotate(110)"/><use href="#e" transform="rotate(127.5)"/></g>
<g transform="rotate(2.5)translate(291)"><use href="#e" transform="rotate(101.25)"/><use href="#e" transform="rotate(128.75)"/></g>
<g transform="rotate(5)translate(291)"><use href="#e" transform="rotate(102.5)"/><use href="#e" transform="rotate(115)"/><use href="#e" transform="rotate(130)"/></g>
<g transform="rotate(7.5)translate(291)"><use href="#e" transform="rotate(111.25)"/><use href="#e" transform="rotate(125)"/></g>
<g transform="rotate(10)translate(291)"><use href="#e" transform="rotate(97.5)"/><use href="#e" transform="rotate(107.5)"/><use href="#e" transform="rotate(125)"/></g>
<g transform="rotate(12.5)translate(291)"><use href="#e" transform="rotate(106.25)"/><use href="#e" transform="rotate(120)"/></g>
<g transform="rotate(15)translate(291)"><use href="#e" transform="rotate(101.25)"/><use href="#e" transform="rotate(112.5)"/><use href="#e" transform="rotate(126.25)"/></g>
<g transform="rotate(17.5)translate(291)"><use href="#e" transform="rotate(116.25)"/><use href="#e" transform="rotate(126.25)"/></g>
<g transform="rotate(20)translate(291)"><use href="#e" transform="rotate(98.75)"/><use href="#e" transform="rotate(108.75)"/><use href="#e" transform="rotate(122.5)"/></g>
<g transform="rotate(22.5)translate(291)"><use href="#e" transform="rotate(100)"/><use href="#e" transform="rotate(113.75)"/></g>
<g transform="rotate(25)translate(291)"><use href="#e" transform="rotate(102.5)"/><use href="#e" transform="rotate(112.5)"/><use href="#e" transform="rotate(120)"/></g>
<g transform="rotate(27.5)translate(291)"><use href="#e" transform="rotate(108.75)"/><use href="#e" transform="rotate(121.25)"/></g>
<g transform="rotate(30)translate(291)"><use href="#e" transform="rotate(97.5)"/><use href="#e" transform="rotate(106.25)"/><use href="#e" transform="rotate(117.5)"/></g>
<g transform="rotate(32.5)translate(291)"><use href="#e" transform="rotate(103.75)"/><use href="#e" transform="rotate(117.5)"/></g>
<g transform="rotate(35)translate(291)"><use href="#e" transform="rotate(100)"/><use href="#e" transform="rotate(108.75)"/><use href="#e" transform="rotate(115)"/></g>
<g transform="rotate(37.5)translate(291)"><use href="#e" transform="rotate(98.75)"/><use href="#e" transform="rotate(111.25)"/></g>
<g transform="rotate(42.5)translate(291)"><use href="#e" transform="rotate(96.25)"/><use href="#e" transform="rotate(105)"/><use href="#e" transform="rotate(113.75)"/></g>
<g transform="rotate(45)translate(291)"><use href="#e" transform="rotate(98.75)"/><use href="#e" transform="rotate(107.5)"/><use href="#e" transform="rotate(112.5)"/></g>
<g transform="rotate(47.5)translate(291)"><use href="#e" transform="rotate(101.25)"/><use href="#e" transform="rotate(108.75)"/></g>
<g transform="rotate(50)translate(291)"><use href="#e" transform="rotate(97.5)"/><use href="#e" transform="rotate(103.75)"/><use href="#e" transform="rotate(110)"/></g>
<g transform="rotate(52.5)translate(291)"><use href="#e" transform="rotate(97.5)"/><use href="#e" transform="rotate(105)"/></g>
<g transform="rotate(55)translate(291)"><use href="#e" transform="rotate(96.25)"/><use href="#e" transform="rotate(101.25)"/><use href="#e" transform="rotate(107.5)"/></g>
<use href="#e" transform="rotate(57.5)translate(291)rotate(102.5)"/>
<g transform="rotate(62.5)translate(291)"><use href="#e" transform="rotate(95)"/><use href="#e" transform="rotate(100)"/><use href="#e" transform="rotate(103.75)"/></g>
<g transform="rotate(67.5)translate(291)"><use href="#e" transform="rotate(97.5)"/><use href="#e" transform="rotate(101.25)"/></g>
<g transform="rotate(70)translate(291)"><use href="#e" transform="rotate(96.25)"/><use href="#e" transform="rotate(100)"/></g>
<g transform="rotate(75)translate(291)"><use href="#e" transform="rotate(95)"/><use href="#e" transform="rotate(97.5)"/></g>
</g>
</g>
<g id="c-nodes">
<g class="o"><use id="c16" href="#nc" transform="rotate(40)"/><use id="c24" href="#nc" transform="rotate(60)"/><use id="c26" href="#nc" transform="rotate(65)"/><use id="c38" href="#nc" transform="rotate(95)"/><use id="c40" href="#nc" transform="rotate(100)"/><use id="c41" href="#nc" transform="rotate(102.5)"/><use id="c42" href="#nc" transform="rotate(105)"/><use id="c44" href="#nc" transform="rotate(110)"/><use id="c45" href="#nc" transform="rotate(112.5)"/><use id="c46" href="#nc" transform="rotate(115)"/><use id="c47" href="#nc" transform="rotate(117.5)"/><use id="c48" href="#nc" transform="rotate(120)"/><use id="c49" href="#nc" transform="rotate(122.5)"/><use id="c50" href="#nc" transform="rotate(125)"/><use id="c51" href="#nc" transform="rotate(127.5)"/><use id="c52" href="#nc" transform="rotate(130)"/><use id="c53" href="#nc" transform="rotate(132.5)"/><use id="c55" href="#nc" transform="rotate(137.5)"/><use id="c56" href="#nc" transform="rotate(140)"/><use id="c57" href="#nc" transform="rotate(142.5)"/><use id="c59" href="#nc" transform="rotate(147.5)"/><use id="c60" href="#nc" transform="rotate(150)"/><use id="c61" href="#nc" transform="rotate(152.5)"/><use id="c62" href="#nc" transform="rotate(155)"/><use id="c63" href="#nc" transform="rotate(157.5)"/><use id="c64" href="#nc" transform="rotate(160)"/><use id="c65" href="#nc" transform="rotate(162.5)"/><use id="c66" href="#nc" transform="rotate(165)"/><use id="c68" href="#nc" transform="rotate(170)"/><use id="c69" href="#nc" transform="rotate(172.5)"/><use id="c70" href="#nc" transform="rotate(175)"/><use id="c71" href="#nc" transform="rotate(177.5)"/><use id="c72" href="#nc" transform="rotate(180)"/><use id="c73" href="#nc" transform="rotate(182.5)"/><use id="c75" href="#nc" transform="rotate(187.5)"/><use id="c76" href="#nc" transform="rotate(190)"/><use id="c77" href="#nc" transform="rotate(192.5)"/><use id="c78" href="#nc" transform="rotate(195)"/><use id="c79" href="#nc" transform="rotate(197.5)"/><use id="c80" href="#nc" transform="rotate(200)"/><use id="c81" href="#nc" transform="rotate(202.5)"/><use id="c84" href="#nc" transform="rotate(210)"/><use id="c85" href="#nc" transform="rotate(212.5)"/><use id="c86" href="#nc" transform="rotate(215)"/><use id="c87" href="#nc" transform="rotate(217.5)"/><use id="c88" href="#nc" transform="rotate(220)"/><use id="c89" href="#nc" transform="rotate(222.5)"/><use id="c90" href="#nc" transform="rotate(225)"/><use id="c91" href="#nc" transform="rotate(227.5)"/><use id="c92" href="#nc" transform="rotate(230)"/><use id="c93" href="#nc" transform="rotate(232.5)"/><use id="c94" href="#nc" transform="rotate(235)"/><use id="c95" href="#nc" transform="rotate(237.5)"/><use id="c96" href="#nc" transform="rotate(240)"/><use id="c97" href="#nc" transform="rotate(242.5)"/><use id="c98" href="#nc" transform="rotate(245)"/><use id="c99" href="#nc" transform="rotate(247.5)"/><use id="c100" href="#nc" transform="rotate(250)"/><use id="c101" href="#nc" transform="rotate(252.5)"/><use id="c102" href="#nc" transform="rotate(255)"/><use id="c103" href="#nc" transform="rotate(257.5)"/><use id="c104" href="#nc" transform="rotate(260)"/><use id="c105" href="#nc" transform="rotate(262.5)"/><use id="c106" href="#nc" transform="rotate(265)"/><use id="c107" href="#nc" transform="rotate(267.5)"/><use id="c108" href="#nc" transform="rotate(270)"/><use id="c109" href="#nc" transform="rotate(272.5)"/><use id="c110" href="#nc" transform="rotate(275)"/><use id="c111" href="#nc" transform="rotate(277.5)"/><use id="c112" href="#nc" transform="rotate(280)"/><use id="c113" href="#nc" transform="rotate(282.5)"/><use id="c115" href="#nc" transform="rotate(287.5)"/></g>
<g class="f"><use id="c114" href="#fc" transform="rotate(285)"/><use id="c116" href="#fc" transform="rotate(290)"/><use id="c117" href="#fc" transform="rotate(292.5)"/><use id="c118" href="#fc" transform="rotate(295)"/><use id="c119" href="#fc" transform="rotate(297.5)"/><use id="c120" href="#fc" transform="rotate(300)"/><use id="c121" href="#fc" transform="rotate(302.5)"/><use id="c122" href="#fc" transform="rotate(305)"/><use id="c123" href="#fc" transform="rotate(307.5)"/><use id="c124" href="#fc" transform="rotate(310)"/><use id="c125" href="#fc" transform="rotate(312.5)"/><use id="c126" href="#fc" transform="rotate(315)"/><use id="c127" href="#fc" transform="rotate(317.5)"/><use id="c128" href="#fc" transform="rotate(320)"/><use id="c129" href="#fc" transform="rotate(322.5)"/><use id="c130" href="#fc" transform="rotate(325)"/><use id="c131" href="#fc" transform="rotate(327.5)"/><use id="c132" href="#fc" transform="rotate(330)"/><use id="c133" href="#fc" transform="rotate(332.5)"/><use id="c134" href="#fc" transform="rotate(335)"/><use id="c135" href="#fc" transform="rotate(337.5)"/><use id="c136" href="#fc" transform="rotate(340)"/><use id="c137" href="#fc" transform="rotate(342.5)"/><use id="c138" href="#fc" transform="rotate(345)"/><use id="c139" href="#fc" transform="rotate(347.5)"/><use id="c140" href="#fc" transform="rotate(350)"/><use id="c141" href="#fc" transform="rotate(352.5)"/><use id="c142" href="#fc" transform="rotate(355)"/><use id="c143" href="#fc" transform="rotate(357.5)"/><use id="c0" href="#fc"/><use id="c1" href="#fc" transform="rotate(2.5)"/><use id="c2" href="#fc" transform="rotate(5)"/><use id="c3" href="#fc" transform="rotate(7.5)"/><use id="c4" href="#fc" transform="rotate(10)"/><use id="c5" href="#fc" transform="rotate(12.5)"/><use id="c6" href="#fc" transform="rotate(15)"/><use id="c7" href="#fc" transform="rotate(17.5)"/><use id="c8" href="#fc" transform="rotate(20)"/><use id="c9" href="#fc" transform="rotate(22.5)"/><use id="c10" href="#fc" transform="rotate(25)"/><use id="c11" href="#fc" transform="rotate(27.5)"/><use id="c12" href="#fc" transform="rotate(30)"/><use id="c13" href="#fc" transform="rotate(32.5)"/><use id="c14" href="#fc" transform="rotate(35)"/><use id="c15" href="#fc" transform="rotate(37.5)"/><use id="c17" href="#fc" transform="rotate(42.5)"/><use id="c18" href="#fc" transform="rotate(45)"/><use id="c19" href="#fc" transform="rotate(47.5)"/><use id="c20" href="#fc" transform="rotate(50)"/><use id="c21" href="#fc" transform="rotate(52.5)"/><use id="c22" href="#fc" transform="rotate(55)"/><use id="c23" href="#fc" transform="rotate(57.5)"/><use id="c25" href="#fc" transform="rotate(62.5)"/><use id="c27" href="#fc" transform="rotate(67.5)"/><use id="c28" href="#fc" transform="rotate(70)"/><use id="c29" href="#fc" transform="rotate(72.5)"/><use id="c30" href="#fc" transform="rotate(75)"/><use id="c31" href="#fc" transform="rotate(77.5)"/><use id="c32" href="#fc" transform="rotate(80)"/><use id="c33" href="#fc" transform="rotate(82.5)"/><use id="c34" href="#fc" transform="rotate(85)"/><use id="c35" href="#fc" transform="rotate(87.5)"/><use id="c36" href="#fc" transform="rotate(90)"/><use id="c37" href="#fc" transform="rotate(92.5)"/><use id="c39" href="#fc" transform="rotate(97.5)"/><use id="c43" href="#fc" transform="rotate(107.5)"/><use id="c54" href="#fc" transform="rotate(135)"/><use id="c58" href="#fc" transform="rotate(145)"/><use id="c67" href="#fc" transform="rotate(167.5)"/><use id="c74" href="#fc" transform="rotate(185)"/><use id="c82" href="#fc" transform="rotate(205)"/><use id="c83" href="#fc" transform="rotate(207.5)"/></g>
</g>
</g>

<g id="panel-d" transform="translate(950 973)">
<g id="d-edges" clip-path="url(#kd)">
<g class="do">
<g transform="rotate(197.5)translate(290)"><use href="#e" transform="rotate(117.5)"/><use href="#e" transform="rotate(127.5)"/><use href="#e" transform="rotate(132.5)"/></g>
<g transform="rotate(207.5)translate(290)"><use href="#e" transform="rotate(110)"/><use href="#e" transform="rotate(120)"/><use href="#e" transform="rotate(126.25)"/></g>
<g transform="rotate(217.5)translate(290)"><use href="#e" transform="rotate(220)"/><use href="#e" transform="rotate(110)"/><use href="#e" transform="rotate(118.75)"/></g>
<g transform="rotate(227.5)translate(290)"><use href="#e" transform="rotate(222.5)"/><use href="#e" transform="rotate(108.75)"/><use href="#e" transform="rotate(118.75)"/></g>
<g transform="rotate(237.5)translate(290)"><use href="#e" transform="rotate(202.5)"/><use href="#e" transform="rotate(227.5)"/><use href="#e" transform="rotate(111.25)"/></g>
<g transform="rotate(247.5)translate(290)"><use href="#e" transform="rotate(202.5)"/><use href="#e" transform="rotate(228.75)"/><use href="#e" transform="rotate(107.5)"/></g>
<g transform="rotate(257.5)translate(290)"><use href="#e" transform="rotate(202.5)"/><use href="#e" transform="rotate(230)"/><use href="#e" transform="rotate(247.5)"/></g>
<g transform="rotate(267.5)translate(290)"><use href="#e" transform="rotate(190)"/><use href="#e" transform="rotate(210)"/><use href="#e" transform="rotate(230)"/></g>
<g transform="rotate(277.5)translate(290)"><use href="#e" transform="rotate(195)"/><use href="#e" transform="rotate(212.5)"/><use href="#e" transform="rotate(232.5)"/></g>
</g>
<g class="dm">
<g transform="rotate(100)translate(290)"><use href="#e" transform="rotate(232.5)"/><use href="#e" transform="rotate(196.25)"/><use href="#e" transform="rotate(202.5)"/></g>
<g transform="rotate(105)translate(290)"><use href="#e" transform="rotate(242.5)"/><use href="#e" transform="rotate(206.25)"/><use href="#e" transform="rotate(220)"/></g>
<g transform="rotate(110)translate(290)"><use href="#e" transform="rotate(215)"/><use href="#e" transform="rotate(182.5)"/><use href="#e" transform="rotate(245)"/></g>
<g transform="rotate(115)translate(290)"><use href="#e" transform="rotate(250)"/><use href="#e" transform="rotate(192.5)"/><use href="#e" transform="rotate(205)"/></g>
<g transform="rotate(120)translate(290)"><use href="#e" transform="rotate(216.25)"/><use href="#e" transform="rotate(205)"/><use href="#e" transform="rotate(245)"/></g>
<g transform="rotate(125)translate(290)"><use href="#e" transform="rotate(226.25)"/><use href="#e" transform="rotate(180)"/><use href="#e" transform="rotate(195)"/></g>
<g transform="rotate(130)translate(290)"><use href="#e" transform="rotate(236.25)"/><use href="#e" transform="rotate(190)"/><use href="#e" transform="rotate(216.25)"/></g>
<g transform="rotate(135)translate(290)"><use href="#e" transform="rotate(205)"/><use href="#e" transform="rotate(193.75)"/><use href="#e" transform="rotate(240)"/></g>
<g transform="rotate(140)translate(290)"><use href="#e" transform="rotate(215)"/><use href="#e" transform="rotate(170)"/><use href="#e" transform="rotate(180)"/></g>
<g transform="rotate(145)translate(290)"><use href="#e" transform="rotate(225)"/><use href="#e" transform="rotate(180)"/><use href="#e" transform="rotate(240)"/></g>
<g transform="rotate(150)translate(290)"><use href="#e" transform="rotate(236.25)"/><use href="#e" transform="rotate(192.5)"/><use href="#e" transform="rotate(210)"/></g>
<g transform="rotate(155)translate(290)"><use href="#e" transform="rotate(202.5)"/><use href="#e" transform="rotate(170)"/><use href="#e" transform="rotate(237.5)"/></g>
<g transform="rotate(160)translate(290)"><use href="#e" transform="rotate(212.5)"/><use href="#e" transform="rotate(180)"/><use href="#e" transform="rotate(163.75)"/></g>
<g transform="rotate(165)translate(290)"><use href="#e" transform="rotate(222.5)"/><use href="#e" transform="rotate(152.5)"/><use href="#e" transform="rotate(192.5)"/></g>
<g transform="rotate(170)translate(290)"><use href="#e" transform="rotate(188.75)"/><use href="#e" transform="rotate(168.75)"/><use href="#e" transform="rotate(217.5)"/></g>
<g transform="rotate(175)translate(290)"><use href="#e" transform="rotate(200)"/><use href="#e" transform="rotate(176.25)"/><use href="#e" transform="rotate(222.5)"/></g>
<g transform="rotate(180)translate(290)"><use href="#e" transform="rotate(210)"/><use href="#e" transform="rotate(155)"/><use href="#e" transform="rotate(168.75)"/></g>
<g transform="rotate(185)translate(290)"><use href="#e" transform="rotate(221.25)"/><use href="#e" transform="rotate(165)"/><use href="#e" transform="rotate(201.25)"/></g>
<g transform="rotate(190)translate(290)"><use href="#e" transform="rotate(182.5)"/><use href="#e" transform="rotate(173.75)"/><use href="#e" transform="rotate(212.5)"/></g>
<g transform="rotate(195)translate(290)"><use href="#e" transform="rotate(192.5)"/><use href="#e" transform="rotate(143.75)"/><use href="#e" transform="rotate(217.5)"/></g>
<g transform="rotate(200)translate(290)"><use href="#e" transform="rotate(203.75)"/><use href="#e" transform="rotate(151.25)"/><use href="#e" transform="rotate(182.5)"/></g>
<g transform="rotate(205)translate(290)"><use href="#e" transform="rotate(168.75)"/><use href="#e" transform="rotate(160)"/><use href="#e" transform="rotate(198.75)"/></g>
<g transform="rotate(210)translate(290)"><use href="#e" transform="rotate(178.75)"/><use href="#e" transform="rotate(138.75)"/><use href="#e" transform="rotate(206.25)"/></g>
<g transform="rotate(215)translate(290)"><use href="#e" transform="rotate(188.75)"/><use href="#e" transform="rotate(148.75)"/><use href="#e" transform="rotate(166.25)"/></g>
<g transform="rotate(220)translate(290)"><use href="#e" transform="rotate(198.75)"/><use href="#e" transform="rotate(156.25)"/><use href="#e" transform="rotate(187.5)"/></g>
<g transform="rotate(225)translate(290)"><use href="#e" transform="rotate(162.5)"/><use href="#e" transform="rotate(123.75)"/><use href="#e" transform="rotate(200)"/></g>
<g transform="rotate(230)translate(290)"><use href="#e" transform="rotate(171.25)"/><use href="#e" transform="rotate(133.75)"/><use href="#e" transform="rotate(190)"/></g>
<g transform="rotate(235)translate(290)"><use href="#e" transform="rotate(181.25)"/><use href="#e" transform="rotate(142.5)"/><use href="#e" transform="rotate(197.5)"/></g>
<g transform="rotate(240)translate(290)"><use href="#e" transform="rotate(192.5)"/><use href="#e" transform="rotate(118.75)"/><use href="#e" transform="rotate(175)"/></g>
<g transform="rotate(245)translate(290)"><use href="#e" transform="rotate(156.25)"/><use href="#e" transform="rotate(130)"/><use href="#e" transform="rotate(186.25)"/></g>
<g transform="rotate(250)translate(290)"><use href="#e" transform="rotate(166.25)"/><use href="#e" transform="rotate(140)"/><use href="#e" transform="rotate(188.75)"/></g>
<g transform="rotate(255)translate(290)"><use href="#e" transform="rotate(175)"/><use href="#e" transform="rotate(118.75)"/><use href="#e" transform="rotate(152.5)"/></g>
<g transform="rotate(260)translate(290)"><use href="#e" transform="rotate(151.25)"/><use href="#e" transform="rotate(127.5)"/><use href="#e" transform="rotate(173.75)"/></g>
<g transform="rotate(265)translate(290)"><use href="#e" transform="rotate(161.25)"/><use href="#e" transform="rotate(105)"/><use href="#e" transform="rotate(178.75)"/></g>
<g transform="rotate(270)translate(290)"><use href="#e" transform="rotate(171.25)"/><use href="#e" transform="rotate(115)"/><use href="#e" transform="rotate(153.75)"/></g>
<g transform="rotate(275)translate(290)"><use href="#e" transform="rotate(132.5)"/><use href="#e" transform="rotate(123.75)"/><use href="#e" transform="rotate(162.5)"/></g>
<g transform="rotate(280)translate(290)"><use href="#e" transform="rotate(142.5)"/><use href="#e" transform="rotate(102.5)"/><use href="#e" transform="rotate(175)"/></g>
</g>
<g class="df">
<g transform="rotate(287.5)translate(290)"><use href="#e" transform="rotate(107.5)"/><use href="#e" transform="rotate(127.5)"/><use href="#e" transform="rotate(152.5)"/><use href="#e" transform="rotate(117.5)"/><use href="#e" transform="rotate(140)"/></g>
<g transform="rotate(292.5)translate(290)"><use href="#e" transform="rotate(115)"/><use href="#e" transform="rotate(137.5)"/><use href="#e" transform="rotate(162.5)"/><use href="#e" transform="rotate(105)"/><use href="#e" transform="rotate(150)"/></g>
<g transform="rotate(297.5)translate(290)"><use href="#e" transform="rotate(102.5)"/><use href="#e" transform="rotate(122.5)"/><use href="#e" transform="rotate(145)"/><use href="#e" transform="rotate(112.5)"/><use href="#e" transform="rotate(155)"/></g>
<g transform="rotate(302.5)translate(290)"><use href="#e" transform="rotate(110)"/><use href="#e" transform="rotate(132.5)"/><use href="#e" transform="rotate(157.5)"/><use href="#e" transform="rotate(100)"/><use href="#e" transform="rotate(145)"/></g>
<g transform="rotate(307.5)translate(290)"><use href="#e" transform="rotate(105)"/><use href="#e" transform="rotate(125)"/><use href="#e" transform="rotate(150)"/><use href="#e" transform="rotate(115)"/><use href="#e" transform="rotate(137.5)"/></g>
<g transform="rotate(312.5)translate(290)"><use href="#e" transform="rotate(112.5)"/><use href="#e" transform="rotate(135)"/><use href="#e" transform="rotate(155)"/><use href="#e" transform="rotate(103.75)"/><use href="#e" transform="rotate(145)"/></g>
<g transform="rotate(317.5)translate(290)"><use href="#e" transform="rotate(100)"/><use href="#e" transform="rotate(120)"/><use href="#e" transform="rotate(142.5)"/><use href="#e" transform="rotate(110)"/><use href="#e" transform="rotate(131.25)"/></g>
<g transform="rotate(322.5)translate(290)"><use href="#e" transform="rotate(108.75)"/><use href="#e" transform="rotate(127.5)"/><use href="#e" transform="rotate(147.5)"/><use href="#e" transform="rotate(98.75)"/><use href="#e" transform="rotate(137.5)"/></g>
<g transform="rotate(327.5)translate(290)"><use href="#e" transform="rotate(102.5)"/><use href="#e" transform="rotate(117.5)"/><use href="#e" transform="rotate(140)"/><use href="#e" transform="rotate(111.25)"/><use href="#e" transform="rotate(132.5)"/></g>
<g transform="rotate(332.5)translate(290)"><use href="#e" transform="rotate(106.25)"/><use href="#e" transform="rotate(123.75)"/><use href="#e" transform="rotate(145)"/><use href="#e" transform="rotate(97.5)"/><use href="#e" transform="rotate(135)"/></g>
<g transform="rotate(337.5)translate(290)"><use href="#e" transform="rotate(101.25)"/><use href="#e" transform="rotate(115)"/><use href="#e" transform="rotate(135)"/><use href="#e" transform="rotate(107.5)"/><use href="#e" transform="rotate(125)"/></g>
<g transform="rotate(342.5)translate(290)"><use href="#e" transform="rotate(105)"/><use href="#e" transform="rotate(121.25)"/><use href="#e" transform="rotate(140)"/><use href="#e" transform="rotate(112.5)"/><use href="#e" transform="rotate(131.25)"/></g>
<g transform="rotate(347.5)translate(290)"><use href="#e" transform="rotate(100)"/><use href="#e" transform="rotate(112.5)"/><use href="#e" transform="rotate(132.5)"/><use href="#e" transform="rotate(106.25)"/><use href="#e" transform="rotate(122.5)"/></g>
<g transform="rotate(352.5)translate(290)"><use href="#e" transform="rotate(103.75)"/><use href="#e" transform="rotate(118.75)"/><use href="#e" transform="rotate(135)"/><use href="#e" transform="rotate(97.5)"/><use href="#e" transform="rotate(127.5)"/></g>
<g transform="rotate(357.5)translate(290)"><use href="#e" transform="rotate(98.75)"/><use href="#e" transform="rotate(110)"/><use href="#e" transform="rotate(127.5)"/><use href="#e" transform="rotate(105)"/><use href="#e" transform="rotate(120)"/></g>
<g transform="rotate(2.5)translate(290)"><use href="#e" transform="rotate(102.5)"/><use href="#e" transform="rotate(115)"/><use href="#e" transform="rotate(130)"/><use href="#e" transform="rotate(96.25)"/><use href="#e" transform="rotate(122.5)"/></g>
<g transform="rotate(7.5)translate(290)"><use href="#e" transform="rotate(97.5)"/><use href="#e" transform="rotate(107.5)"/><use href="#e" transform="rotate(125)"/><use href="#e" transform="rotate(102.5)"/><use href="#e" transform="rotate(116.25)"/></g>
<g transform="rotate(12.5)translate(290)"><use href="#e" transform="rotate(101.25)"/><use href="#e" transform="rotate(112.5)"/><use href="#e" transform="rotate(126.25)"/><use href="#e" transform="rotate(95)"/><use href="#e" transform="rotate(120)"/></g>
<g transform="rotate(17.5)translate(290)"><use href="#e" transform="rotate(98.75)"/><use href="#e" transform="rotate(108.75)"/><use href="#e" transform="rotate(122.5)"/><use href="#e" transform="rotate(103.75)"/><use href="#e" transform="rotate(115)"/></g>
<g transform="rotate(22.5)translate(290)"><use href="#e" transform="rotate(102.5)"/><use href="#e" transform="rotate(112.5)"/><use href="#e" transform="rotate(120)"/><use href="#e" transform="rotate(96.25)"/><use href="#e" transform="rotate(108.75)"/></g>
<g transform="rotate(27.5)translate(290)"><use href="#e" transform="rotate(97.5)"/><use href="#e" transform="rotate(106.25)"/><use href="#e" transform="rotate(117.5)"/><use href="#e" transform="rotate(101.25)"/><use href="#e" transform="rotate(112.5)"/></g>
<g transform="rotate(32.5)translate(290)"><use href="#e" transform="rotate(100)"/><use href="#e" transform="rotate(108.75)"/><use href="#e" transform="rotate(115)"/><use href="#e" transform="rotate(95)"/><use href="#e" transform="rotate(105)"/></g>
<g transform="rotate(40)translate(290)"><use href="#e" transform="rotate(96.25)"/><use href="#e" transform="rotate(105)"/><use href="#e" transform="rotate(113.75)"/><use href="#e" transform="rotate(106.25)"/><use href="#e" transform="rotate(110)"/></g>
<g transform="rotate(42.5)translate(290)"><use href="#e" transform="rotate(98.75)"/><use href="#e" transform="rotate(107.5)"/><use href="#e" transform="rotate(112.5)"/></g>
<g transform="rotate(47.5)translate(290)"><use href="#e" transform="rotate(97.5)"/><use href="#e" transform="rotate(103.75)"/><use href="#e" transform="rotate(110)"/></g>
<g transform="rotate(52.5)translate(290)"><use href="#e" transform="rotate(96.25)"/><use href="#e" transform="rotate(101.25)"/><use href="#e" transform="rotate(107.5)"/></g>
<g transform="rotate(60)translate(290)"><use href="#e" transform="rotate(95)"/><use href="#e" transform="rotate(98.75)"/><use href="#e" transform="rotate(100)"/><use href="#e" transform="rotate(103.75)"/></g>
<g transform="rotate(65)translate(290)"><use href="#e" transform="rotate(96.25)"/><use href="#e" transform="rotate(97.5)"/><use href="#e" transform="rotate(101.25)"/></g>
<g transform="rotate(67.5)translate(290)"><use href="#e" transform="rotate(96.25)"/><use href="#e" transform="rotate(100)"/></g>
<g transform="rotate(72.5)translate(290)"><use href="#e" transform="rotate(95)"/><use href="#e" transform="rotate(97.5)"/></g>
<g transform="rotate(290)translate(290)"><use href="#e" transform="rotate(120)"/><use href="#e" transform="rotate(145)"/><use href="#e" transform="rotate(132.5)"/></g>
<g transform="rotate(295)translate(290)"><use href="#e" transform="rotate(111.25)"/><use href="#e" transform="rotate(140)"/><use href="#e" transform="rotate(127.5)"/></g>
<g transform="rotate(300)translate(290)"><use href="#e" transform="rotate(127.5)"/><use href="#e" transform="rotate(158.75)"/><use href="#e" transform="rotate(110)"/></g>
<g transform="rotate(305)translate(290)"><use href="#e" transform="rotate(116.25)"/><use href="#e" transform="rotate(148.75)"/><use href="#e" transform="rotate(135)"/></g>
<g transform="rotate(310)translate(290)"><use href="#e" transform="rotate(107.5)"/><use href="#e" transform="rotate(135)"/><use href="#e" transform="rotate(121.25)"/></g>
<g transform="rotate(315)translate(290)"><use href="#e" transform="rotate(123.75)"/><use href="#e" transform="rotate(152.5)"/><use href="#e" transform="rotate(105)"/></g>
<g transform="rotate(320)translate(290)"><use href="#e" transform="rotate(113.75)"/><use href="#e" transform="rotate(141.25)"/><use href="#e" transform="rotate(130)"/></g>
<g transform="rotate(325)translate(290)"><use href="#e" transform="rotate(131.25)"/><use href="#e" transform="rotate(150)"/><use href="#e" transform="rotate(112.5)"/></g>
<g transform="rotate(330)translate(290)"><use href="#e" transform="rotate(103.75)"/><use href="#e" transform="rotate(121.25)"/><use href="#e" transform="rotate(140)"/></g>
<g transform="rotate(335)translate(290)"><use href="#e" transform="rotate(117.5)"/><use href="#e" transform="rotate(143.75)"/><use href="#e" transform="rotate(130)"/></g>
<g transform="rotate(340)translate(290)"><use href="#e" transform="rotate(110)"/><use href="#e" transform="rotate(133.75)"/><use href="#e" transform="rotate(122.5)"/></g>
<g transform="rotate(345)translate(290)"><use href="#e" transform="rotate(126.25)"/><use href="#e" transform="rotate(141.25)"/><use href="#e" transform="rotate(106.25)"/></g>
<g transform="rotate(350)translate(290)"><use href="#e" transform="rotate(105)"/><use href="#e" transform="rotate(122.5)"/><use href="#e" transform="rotate(135)"/></g>
<g transform="rotate(355)translate(290)"><use href="#e" transform="rotate(115)"/><use href="#e" transform="rotate(136.25)"/><use href="#e" transform="rotate(102.5)"/></g>
<g transform="rotate(0)translate(290)"><use href="#e" transform="rotate(101.25)"/><use href="#e" transform="rotate(128.75)"/><use href="#e" transform="rotate(113.75)"/></g>
<g transform="rotate(5)translate(290)"><use href="#e" transform="rotate(111.25)"/><use href="#e" transform="rotate(125)"/><use href="#e" transform="rotate(100)"/></g>
<g transform="rotate(10)translate(290)"><use href="#e" transform="rotate(106.25)"/><use href="#e" transform="rotate(120)"/><use href="#e" transform="rotate(128.75)"/></g>
<g transform="rotate(15)translate(290)"><use href="#e" transform="rotate(116.25)"/><use href="#e" transform="rotate(126.25)"/><use href="#e" transform="rotate(106.25)"/></g>
<g transform="rotate(20)translate(290)"><use href="#e" transform="rotate(100)"/><use href="#e" transform="rotate(113.75)"/><use href="#e" transform="rotate(123.75)"/></g>
<g transform="rotate(25)translate(290)"><use href="#e" transform="rotate(108.75)"/><use href="#e" transform="rotate(121.25)"/><use href="#e" transform="rotate(98.75)"/></g>
<g transform="rotate(30)translate(290)"><use href="#e" transform="rotate(103.75)"/><use href="#e" transform="rotate(117.5)"/><use href="#e" transform="rotate(111.25)"/></g>
<g transform="rotate(35)translate(290)"><use href="#e" transform="rotate(98.75)"/><use href="#e" transform="rotate(111.25)"/><use href="#e" transform="rotate(105)"/></g>
<g transform="rotate(45)translate(290)"><use href="#e" transform="rotate(101.25)"/><use href="#e" transform="rotate(108.75)"/></g>
<g transform="rotate(50)translate(290)"><use href="#e" transform="rotate(97.5)"/><use href="#e" transform="rotate(105)"/></g>
<use href="#e" transform="rotate(55)translate(290)rotate(102.5)"/>
</g>
<g class="dt">
<use href="#e" transform="rotate(212.5)translate(290)rotate(201.25)"/>
<use href="#e" transform="rotate(180)translate(290)rotate(211.25)"/>
<use href="#e" transform="rotate(220)translate(290)rotate(185)"/>
<use href="#e" transform="rotate(160)translate(290)rotate(231.25)"/>
<use href="#e" transform="rotate(237.5)translate(290)rotate(163.75)"/>
</g>
</g>
<g id="d-nodes">
<g class="o"><use id="d37" href="#nd" transform="rotate(92.5)"/><use id="d38" href="#nd" transform="rotate(95)"/><use id="d39" href="#nd" transform="rotate(97.5)"/><use id="d40" href="#nd" transform="rotate(100)"/><use id="d41" href="#nd" transform="rotate(102.5)"/><use id="d42" href="#nd" transform="rotate(105)"/><use id="d43" href="#nd" transform="rotate(107.5)"/><use id="d44" href="#nd" transform="rotate(110)"/><use id="d45" href="#nd" transform="rotate(112.5)"/><use id="d46" href="#nd" transform="rotate(115)"/><use id="d47" href="#nd" transform="rotate(117.5)"/><use id="d48" href="#nd" transform="rotate(120)"/><use id="d49" href="#nd" transform="rotate(122.5)"/><use id="d50" href="#nd" transform="rotate(125)"/><use id="d51" href="#nd" transform="rotate(127.5)"/><use id="d52" href="#nd" transform="rotate(130)"/><use id="d53" href="#nd" transform="rotate(132.5)"/><use id="d54" href="#nd" transform="rotate(135)"/><use id="d55" href="#nd" transform="rotate(137.5)"/><use id="d56" href="#nd" transform="rotate(140)"/><use id="d57" href="#nd" transform="rotate(142.5)"/><use id="d58" href="#nd" transform="rotate(145)"/><use id="d59" href="#nd" transform="rotate(147.5)"/><use id="d60" href="#nd" transform="rotate(150)"/><use id="d61" href="#nd" transform="rotate(152.5)"/><use id="d62" href="#nd" transform="rotate(155)"/><use id="d63" href="#nd" transform="rotate(157.5)"/><use id="d64" href="#nd" transform="rotate(160)"/><use id="d65" href="#nd" transform="rotate(162.5)"/><use id="d66" href="#nd" transform="rotate(165)"/><use id="d67" href="#nd" transform="rotate(167.5)"/><use id="d68" href="#nd" transform="rotate(170)"/><use id="d69" href="#nd" transform="rotate(172.5)"/><use id="d70" href="#nd" transform="rotate(175)"/><use id="d71" href="#nd" transform="rotate(177.5)"/><use id="d72" href="#nd" transform="rotate(180)"/><use id="d73" href="#nd" transform="rotate(182.5)"/><use id="d74" href="#nd" transform="rotate(185)"/><use id="d75" href="#nd" transform="rotate(187.5)"/><use id="d76" href="#nd" transform="rotate(190)"/><use id="d77" href="#nd" transform="rotate(192.5)"/><use id="d78" href="#nd" transform="rotate(195)"/><use id="d79" href="#nd" transform="rotate(197.5)"/><use id="d80" href="#nd" transform="rotate(200)"/><use id="d81" href="#nd" transform="rotate(202.5)"/><use id="d82" href="#nd" transform="rotate(205)"/><use id="d83" href="#nd" transform="rotate(207.5)"/><use id="d84" href="#nd" transform="rotate(210)"/><use id="d85" href="#nd" transform="rotate(212.5)"/><use id="d86" href="#nd" transform="rotate(215)"/><use id="d87" href="#nd" transform="rotate(217.5)"/><use id="d88" href="#nd" transform="rotate(220)"/><use id="d89" href="#nd" transform="rotate(222.5)"/><use id="d90" href="#nd" transform="rotate(225)"/><use id="d91" href="#nd" transform="rotate(227.5)"/><use id="d92" href="#nd" transform="rotate(230)"/><use id="d93" href="#nd" transform="rotate(232.5)"/><use id="d94" href="#nd" transform="rotate(235)"/><use id="d95" href="#nd" transform="rotate(237.5)"/><use id="d96" href="#nd" transform="rotate(240)"/><use id="d97" href="#nd" transform="rotate(242.5)"/><use id="d98" href="#nd" transform="rotate(245)"/><use id="d99" href="#nd" transform="rotate(247.5)"/><use id="d100" href="#nd" transform="rotate(250)"/><use id="d101" href="#nd" transform="rotate(252.5)"/><use id="d102" href="#nd" transform="rotate(255)"/><use id="d103" href="#nd" transform="rotate(257.5)"/><use id="d104" href="#nd" transform="rotate(260)"/><use id="d105" href="#nd" transform="rotate(262.5)"/><use id="d106" href="#nd" transform="rotate(265)"/><use id="d107" href="#nd" transform="rotate(267.5)"/><use id="d108" href="#nd" transform="rotate(270)"/><use id="d109" href="#nd" transform="rotate(272.5)"/><use id="d110" href="#nd" transform="rotate(275)"/><use id="d111" href="#nd" transform="rotate(277.5)"/><use id="d112" href="#nd" transform="rotate(280)"/><use id="d113" href="#nd" transform="rotate(282.5)"/><use id="d114" href="#nd" transform="rotate(285)"/></g>
<g class="f"><use id="d115" href="#fd" transform="rotate(287.5)"/><use id="d116" href="#fd" transform="rotate(290)"/><use id="d117" href="#fd" transform="rotate(292.5)"/><use id="d118" href="#fd" transform="rotate(295)"/><use id="d119" href="#fd" transform="rotate(297.5)"/><use id="d120" href="#fd" transform="rotate(300)"/><use id="d121" href="#fd" transform="rotate(302.5)"/><use id="d122" href="#fd" transform="rotate(305)"/><use id="d123" href="#fd" transform="rotate(307.5)"/><use id="d124" href="#fd" transform="rotate(310)"/><use id="d125" href="#fd" transform="rotate(312.5)"/><use id="d126" href="#fd" transform="rotate(315)"/><use id="d127" href="#fd" transform="rotate(317.5)"/><use id="d128" href="#fd" transform="rotate(320)"/><use id="d129" href="#fd" transform="rotate(322.5)"/><use id="d130" href="#fd" transform="rotate(325)"/><use id="d131" href="#fd" transform="rotate(327.5)"/><use id="d132" href="#fd" transform="rotate(330)"/><use id="d133" href="#fd" transform="rotate(332.5)"/><use id="d134" href="#fd" transform="rotate(335)"/><use id="d135" href="#fd" transform="rotate(337.5)"/><use id="d136" href="#fd" transform="rotate(340)"/><use id="d137" href="#fd" transform="rotate(342.5)"/><use id="d138" href="#fd" transform="rotate(345)"/><use id="d139" href="#fd" transform="rotate(347.5)"/><use id="d140" href="#fd" transform="rotate(350)"/><use id="d141" href="#fd" transform="rotate(352.5)"/><use id="d142" href="#fd" transform="rotate(355)"/><use id="d143" href="#fd" transform="rotate(357.5)"/><use id="d0" href="#fd"/><use id="d1" href="#fd" transform="rotate(2.5)"/><use id="d2" href="#fd" transform="rotate(5)"/><use id="d3" href="#fd" transform="rotate(7.5)"/><use id="d4" href="#fd" transform="rotate(10)"/><use id="d5" href="#fd" transform="rotate(12.5)"/><use id="d6" href="#fd" transform="rotate(15)"/><use id="d7" href="#fd" transform="rotate(17.5)"/><use id="d8" href="#fd" transform="rotate(20)"/><use id="d9" href="#fd" transform="rotate(22.5)"/><use id="d10" href="#fd" transform="rotate(25)"/><use id="d11" href="#fd" transform="rotate(27.5)"/><use id="d12" href="#fd" transform="rotate(30)"/><use id="d13" href="#fd" transform="rotate(32.5)"/><use id="d14" href="#fd" transform="rotate(35)"/><use id="d15" href="#fd" transform="rotate(37.5)"/><use id="d16" href="#fd" transform="rotate(40)"/><use id="d17" href="#fd" transform="rotate(42.5)"/><use id="d18" href="#fd" transform="rotate(45)"/><use id="d19" href="#fd" transform="rotate(47.5)"/><use id="d20" href="#fd" transform="rotate(50)"/><use id="d21" href="#fd" transform="rotate(52.5)"/><use id="d22" href="#fd" transform="rotate(55)"/><use id="d23" href="#fd" transform="rotate(57.5)"/><use id="d24" href="#fd" transform="rotate(60)"/><use id="d25" href="#fd" transform="rotate(62.5)"/><use id="d26" href="#fd" transform="rotate(65)"/><use id="d27" href="#fd" transform="rotate(67.5)"/><use id="d28" href="#fd" transform="rotate(70)"/><use id="d29" href="#fd" transform="rotate(72.5)"/><use id="d30" href="#fd" transform="rotate(75)"/><use id="d31" href="#fd" transform="rotate(77.5)"/><use id="d32" href="#fd" transform="rotate(80)"/><use id="d33" href="#fd" transform="rotate(82.5)"/><use id="d34" href="#fd" transform="rotate(85)"/><use id="d35" href="#fd" transform="rotate(87.5)"/><use id="d36" href="#fd" transform="rotate(90)"/></g>
</g>
</g>

<g id="labels">
<text class="lb" x="47" y="35">a)</text>
<text class="lb" x="686" y="57">b)</text>
<text class="lb" x="24" y="680">c)</text>
<text class="lb" x="662" y="701">d)</text>
<text class="cap" x="2" y="1270">Fig. 9 Bimodular <tspan font-weight="normal">structure</tspan></text>
</g>
</svg>
